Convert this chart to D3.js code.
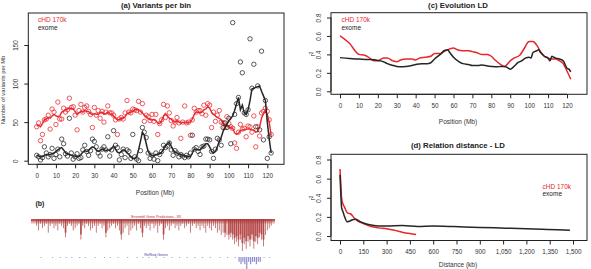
<!DOCTYPE html>
<html><head><meta charset="utf-8">
<script src="https://cdn.jsdelivr.net/npm/d3@7"></script>
<style>
body{margin:0;background:#fff;}
text{font-family:"Liberation Sans",Arial,sans-serif;}
</style></head>
<body><svg id="c" width="591" height="269"></svg>
<script>
// ---------- DATA ----------
const seriesNames = ["cHD 170k", "exome"];
// (a) variants per 1 Mb bin, positions 0..122
const binPos = d3.range(0, 123);
const hdPoints = [44,49,26,34,53,54,59,41,67,63,47,76,54,54,68,63,66,81,69,70,59,40,65,73,63,69,71,64,60,43,69,59,65,55,64,50,63,71,62,62,59,53,34,54,56,54,62,78,63,62,67,66,65,77,63,74,51,59,57,52,60,51,60,34,48,53,73,56,71,62,52,45,50,56,49,29,50,71,49,50,33,53,68,63,65,65,61,72,59,74,72,43,63,51,59,65,50,49,43,57,48,44,42,23,16,37,47,41,42,31,45,44,37,58,18,44,32,62,64,68,64,53,34];
const exPoints = [7,5,1,4,18,10,5,8,16,3,8,15,5,28,22,9,6,55,10,2,5,9,3,4,14,20,12,7,13,28,25,18,10,6,15,18,14,31,6,14,39,20,17,1,8,15,4,14,12,3,34,5,2,0,13,43,37,30,10,3,7,2,10,0,8,12,20,17,19,23,14,7,13,10,5,8,6,4,7,5,10,33,15,17,12,8,18,19,28,28,27,12,3,15,29,27,20,43,49,43,55,22,179,60,74,82,128,114,62,60,66,158,94,125,44,97,40,142,27,78,3,31,10];
const hdTrend = [45,46,44,48,53,54,56,55,58,60,58,57,58,63,64,66,67,68,68,67,64,60,62,64,63,65,64,64,61,60,61,60,60,62,63,60,61,63,61,60,58,55,53,53,55,55,57,61,62,63,64,66,66,66,64,62,59,57,55,53,53,53,52,49,48,52,58,61,58,55,54,51,50,52,50,49,50,49,49,50,50,54,60,63,63,62,63,66,67,70,68,63,60,58,56,55,53,49,47,45,44,43,42,36,34,36,39,40,40,41,41,41,40,40,37,38,44,55,61,65,60,50,33];
const exTrend = [7,6,5,5,7,8,8,8,9,10,12,14,16,17,14,10,9,8,7,6,6,5,6,8,11,13,12,13,16,18,17,14,12,13,15,14,13,14,13,16,19,15,11,10,12,14,13,10,8,5,3,3,5,14,25,37,33,22,12,8,7,6,8,8,9,11,15,19,22,24,19,14,11,10,9,8,7,6,6,5,5,10,15,15,14,14,17,19,22,22,18,12,10,12,18,25,30,38,43,47,52,55,58,65,74,82,66,72,62,60,66,78,93,94,95,96,97,90,84,78,50,28,10];
const aXTicks = [0,10,20,30,40,50,60,70,80,90,100,110,120];
const aYTicks = [0,50,100,150];

// (b) gene track: stacked gene rows per Mb
const ensemblRows = [3,5,2,4,3,2,6,3,2,4,3,5,2,3,4,8,3,2,3,5,4,3,2,9,3,4,2,3,5,4,3,6,3,2,4,3,8,5,4,3,2,4,3,5,9,6,4,3,7,5,4,3,5,2,4,8,3,4,3,5,2,4,3,6,3,2,9,4,3,5,3,2,4,3,5,3,2,4,3,2,6,3,2,4,3,5,3,4,6,3,4,5,3,4,6,5,7,6,8,7,9,8,9,11,10,12,9,14,11,13,10,12,9,13,10,11,8,9,12,7,5,4,3];
const refseqPos = [2,8,12,15,18,22,25,30,35,38,42,47,52,55,58,62,66,70,74,78,82,86,90,95,99,103,105,106,107,108,109,110,111,112,113,114,115,116,118,121];
const refseqRows = [1,1,1,1,1,1,1,1,1,1,1,1,1,1,1,1,1,1,1,1,1,1,1,1,1,1,2,3,2,3,5,2,3,2,2,3,2,2,1,1];

// (c) LD along chromosome
const cHdPos = [0,5,10,13,15,18,20,23,25,28,30,32,35,38,40,42,45,48,50,53,55,58,60,62,65,68,70,72,75,78,80,82,85,87,90,92,95,97,100,102,104,106,108,110,112,114,116,118,120,122];
const cHdR2 = [0.60,0.52,0.40,0.39,0.37,0.33,0.33,0.36,0.36,0.33,0.32,0.34,0.35,0.35,0.34,0.36,0.37,0.38,0.41,0.41,0.43,0.46,0.47,0.45,0.44,0.44,0.43,0.42,0.40,0.40,0.38,0.34,0.29,0.27,0.33,0.36,0.39,0.45,0.54,0.54,0.50,0.43,0.38,0.36,0.35,0.35,0.33,0.30,0.22,0.13];
const cExPos = [0,5,10,15,20,23,25,28,30,33,35,38,40,43,46,48,50,53,55,57,58,60,63,65,68,70,73,75,78,80,83,85,87,89,90,92,94,96,98,100,101,102,104,105,106,107,108,110,111,112,113,114,116,118,120,121,122];
const cExR2 = [0.365,0.355,0.35,0.345,0.335,0.32,0.30,0.28,0.27,0.265,0.27,0.28,0.29,0.30,0.30,0.31,0.35,0.40,0.44,0.45,0.42,0.37,0.32,0.30,0.29,0.28,0.28,0.285,0.275,0.27,0.265,0.27,0.27,0.25,0.24,0.27,0.31,0.33,0.36,0.37,0.36,0.42,0.44,0.45,0.42,0.40,0.38,0.36,0.33,0.38,0.37,0.36,0.35,0.33,0.25,0.24,0.21];
const cXTicks = [0,10,20,30,40,50,60,70,80,90,100,110,120];
const r2Ticks = [0,0.2,0.4,0.6,0.8];

// (d) LD decay with distance (kb)
const dHdDist = [0,5,10,20,30,40,50,70,90,110,150,200,250,300,350,400,450,490];
const dHdR2 = [0.70,0.55,0.40,0.33,0.30,0.26,0.24,0.23,0.19,0.16,0.13,0.10,0.085,0.075,0.06,0.04,0.025,0.015];
const dExDist = [0,5,10,20,30,45,60,80,100,130,160,200,250,300,400,500,600,700,800,900,1000,1100,1200,1300,1400,1480];
const dExR2 = [0.64,0.45,0.30,0.25,0.20,0.15,0.155,0.17,0.175,0.15,0.13,0.115,0.105,0.105,0.11,0.10,0.105,0.10,0.095,0.09,0.085,0.08,0.075,0.07,0.065,0.06];
const dXTicks = [0,150,300,450,600,750,900,1050,1200,1350,1500];

// ---------- STYLE ----------
const RED = "#e8262b", BLK = "#262626", TXT = "#333";
const svg = d3.select("#c");
svg.append("rect").attr("width",591).attr("height",269).attr("fill","#fff");

function frame(g, box){
  g.append("rect").attr("x",box.l).attr("y",box.t).attr("width",box.r-box.l).attr("height",box.b-box.t)
   .attr("fill","none").attr("stroke","#222").attr("stroke-width",1);
}
function rAxisX(g, sc, ticks, y, fmt){
  const ax = g.append("g").attr("transform",`translate(0,${y})`)
    .call(d3.axisBottom(sc).tickValues(ticks).tickSize(4).tickPadding(5).tickFormat(fmt).tickSizeOuter(0));
  ax.select(".domain").attr("d",`M${sc(ticks[0])},0H${sc(ticks[ticks.length-1])}`).attr("stroke","#222");
  ax.selectAll("line").attr("stroke","#222");
  ax.selectAll("text").attr("font-size",6.3).attr("fill",TXT);
}
function rAxisY(g, sc, ticks, x, fmt){
  const ax = g.append("g").attr("transform",`translate(${x},0)`)
    .call(d3.axisLeft(sc).tickValues(ticks).tickSize(4).tickFormat(fmt).tickSizeOuter(0));
  ax.select(".domain").attr("d",`M0,${sc(ticks[0])}V${sc(ticks[ticks.length-1])}`).attr("stroke","#222");
  ax.selectAll("line").attr("stroke","#222");
  ax.selectAll("text").attr("font-size",6.3).attr("fill",TXT)
    .attr("text-anchor","middle").attr("dy",0).attr("x",0)
    .attr("transform",d=>`translate(-10,${0}) rotate(-90)`);
}
function label(txt,x,y,opt={}){
  const t = svg.append("text").attr("x",x).attr("y",y).text(txt)
    .attr("font-size",opt.size||6.5).attr("fill",opt.fill||TXT)
    .attr("text-anchor",opt.anchor||"middle").attr("font-weight",opt.bold?"bold":"normal");
  if(opt.rot) t.attr("transform",`rotate(-90,${x},${y})`);
  return t;
}

// ---------- PANEL (a) ----------
{
  const box = {l:28.3,r:284,t:13,b:164.3};
  const x = d3.scaleLinear().domain([0,120]).range([36.7,267.3]);
  const y = d3.scaleLinear().domain([0,150]).range([160.7,45]);
  const g = svg.append("g");
  frame(g,box);
  rAxisX(g,x,aXTicks,box.b,d3.format("d"));
  rAxisY(g,y,aYTicks,box.l,d3.format("d"));
  const line = d3.line().x((d,i)=>x(binPos[i])).y(d=>y(d));
  g.selectAll(".hp").data(hdPoints).join("circle").attr("cx",(d,i)=>x(binPos[i])).attr("cy",d=>y(d))
    .attr("r",2.2).attr("fill","none").attr("stroke",RED).attr("stroke-width",0.9).attr("opacity",0.85);
  g.append("path").attr("d",line(hdTrend)).attr("fill","none").attr("stroke",RED).attr("stroke-width",1.4);
  g.selectAll(".ep").data(exPoints).join("circle").attr("cx",(d,i)=>x(binPos[i])).attr("cy",d=>y(d))
    .attr("r",2.2).attr("fill","none").attr("stroke",BLK).attr("stroke-width",0.9).attr("opacity",0.85);
  g.append("path").attr("d",line(exTrend)).attr("fill","none").attr("stroke",BLK).attr("stroke-width",1.5);
  label("(a) Variants per bin",156,7.5,{bold:true,size:7.8,fill:"#222"});
  label("Number of variants per Mb",5,90,{rot:true,size:5.8});
  label("Position (Mb)",155,195,{size:6.5});
  label(seriesNames[0],38,22,{anchor:"start",fill:RED});
  label(seriesNames[1],38,29.5,{anchor:"start",fill:"#222"});
}

// ---------- PANEL (b) ----------
{
  const x = d3.scaleLinear().domain([0,120]).range([36.7,267.3]);
  const rowH = d3.scaleLinear().domain([0,14]).range([0,32]);
  const g = svg.append("g");
  label("(b)",40,206,{bold:true,size:7,fill:"#222"});
  g.append("rect").attr("x",x(-3)).attr("y",219).attr("width",x(124)-x(-3)).attr("height",2.5).attr("fill","#b53a3a").attr("opacity",0.85);
  g.append("rect").attr("x",x(-3)).attr("y",221.5).attr("width",x(124)-x(-3)).attr("height",2).attr("fill","#c65a5a").attr("opacity",0.45);
  // dense lower layer in high gene-density region
  g.selectAll(".ensD").data(ensemblRows).join("rect")
    .attr("x",(d,i)=>x(binPos[i])-0.9).attr("y",219)
    .attr("width",1.9).attr("height",d=>d>=8?rowH(d)*0.75:0)
    .attr("fill","#b84545").attr("opacity",0.75);
  g.selectAll(".ens").data(ensemblRows).join("rect")
    .attr("x",(d,i)=>x(binPos[i])-0.4).attr("y",219)
    .attr("width",0.8).attr("height",d=>rowH(d))
    .attr("fill","#a83535").attr("opacity",0.8);
  label("Ensembl Gene Predictions - 83",156,217.5,{size:3.6,fill:"#a33"});
  const refH = d3.scaleLinear().domain([0,5]).range([0,12]);
  g.selectAll(".ref").data(refseqRows).join("rect")
    .attr("x",(d,i)=>x(refseqPos[i])).attr("y",257)
    .attr("width",1.2).attr("height",d=>d>1?refH(d):0.8)
    .attr("fill","#5050b5").attr("opacity",0.65);
  label("RefSeq Genes",156,256,{size:3.6,fill:"#4040a0"});
}

// ---------- PANEL (c) ----------
{
  const box = {l:331,r:587,t:12.7,b:94.3};
  const x = d3.scaleLinear().domain([0,120]).range([340,567]);
  const y = d3.scaleLinear().domain([0,0.8]).range([91.3,17.5]);
  const g = svg.append("g");
  frame(g,box);
  rAxisX(g,x,cXTicks,box.b,d3.format("d"));
  rAxisY(g,y,r2Ticks,box.l,d3.format(".1f"));
  const line = d3.line().curve(d3.curveMonotoneX);
  g.append("path").attr("d",line(cHdPos.map((p,i)=>[x(p),y(cHdR2[i])]))).attr("fill","none").attr("stroke",RED).attr("stroke-width",1.5);
  g.append("path").attr("d",line(cExPos.map((p,i)=>[x(p),y(cExR2[i])]))).attr("fill","none").attr("stroke",BLK).attr("stroke-width",1.5);
  label("(c) Evolution LD",458,7.5,{bold:true,size:7.8,fill:"#222"});
  const r = label("",315,54,{rot:true,size:6.5});
  r.append("tspan").text("r");
  r.append("tspan").text("2").attr("font-size",4.5).attr("dy",-2.5);
  label("Position (Mb)",458,124,{size:6.5});
  label(seriesNames[0],341.5,22,{anchor:"start",fill:RED});
  label(seriesNames[1],341.5,30,{anchor:"start",fill:"#222"});
}

// ---------- PANEL (d) ----------
{
  const box = {l:331,r:587,t:154.3,b:240.5};
  const x = d3.scaleLinear().domain([0,1500]).range([340,573]);
  const y = d3.scaleLinear().domain([0,0.8]).range([236,159.5]);
  const g = svg.append("g");
  frame(g,box);
  rAxisX(g,x,dXTicks,box.b,d3.format(","));
  rAxisY(g,y,r2Ticks,box.l,d3.format(".1f"));
  const line = d3.line().curve(d3.curveMonotoneX);
  g.append("path").attr("d",line(dHdDist.map((p,i)=>[x(p),y(dHdR2[i])]))).attr("fill","none").attr("stroke",RED).attr("stroke-width",1.5);
  g.append("path").attr("d",line(dExDist.map((p,i)=>[x(p),y(dExR2[i])]))).attr("fill","none").attr("stroke",BLK).attr("stroke-width",1.5);
  label("(d) Relation distance - LD",458,148,{bold:true,size:7.8,fill:"#222"});
  const r = label("",315,198,{rot:true,size:6.5});
  r.append("tspan").text("r");
  r.append("tspan").text("2").attr("font-size",4.5).attr("dy",-2.5);
  label("Distance (kb)",458,267,{size:6.5});
  label(seriesNames[0],542.5,188.5,{anchor:"start",fill:RED});
  label(seriesNames[1],542.5,196,{anchor:"start",fill:"#222"});
}
</script></body></html>
